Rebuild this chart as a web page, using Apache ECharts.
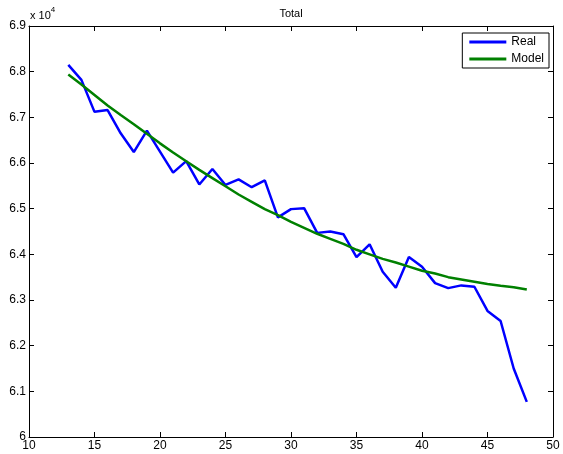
<!DOCTYPE html>
<html>
<head>
<meta charset="utf-8">
<script src="https://cdn.jsdelivr.net/npm/echarts@6/dist/echarts.min.js"></script>
<style>html,body{margin:0;padding:0;background:#fff}#c{width:563px;height:454px}</style>
</head>
<body>
<div id="c"></div>
<script>
const xValues = [13,14,15,16,17,18,19,20,21,22,23,24,25,26,27,28,29,30,31,32,33,34,35,36,37,38,39,40,41,42,43,44,45,46,47,48];
const realValues = [68150,67820,67120,67160,66650,66240,66710,66250,65790,66040,65530,65870,65520,65640,65470,65620,64810,64990,65010,64470,64500,64440,63940,64220,63620,63270,63940,63730,63370,63260,63320,63290,62760,62540,61500,60770];
const modelValues = [67940,67720,67490,67260,67050,66850,66640,66430,66230,66040,65850,65670,65490,65310,65150,64990,64860,64710,64580,64450,64340,64230,64100,64000,63900,63820,63730,63640,63580,63500,63450,63400,63350,63310,63280,63230];
const xTicks = [10,15,20,25,30,35,40,45,50];
const yTicks = [60000,61000,62000,63000,64000,65000,66000,67000,68000,69000];
const seriesNames = ['Real','Model'];
const titleText = 'Total';

const font = 'Liberation Sans, Arial, Helvetica, sans-serif';
const chart = echarts.init(document.getElementById('c'));
const pair = (arr) => xValues.map((x,i)=>[x, arr[i]]);
const fmtY = v => { const s = (v/10000).toFixed(1); return s.endsWith('.0') ? s.slice(0,-2) : s; };

chart.setOption({
  animation: false,
  backgroundColor: '#fff',
  grid: { left: 29, right: 10, top: 26, bottom: 17, containLabel: false },
  legend: {
    data: seriesNames, orient: 'vertical', right: 14, top: 33,
    icon: 'rect', itemWidth: 37, itemHeight: 3, itemGap: 5,
    borderColor: '#000', borderWidth: 1, backgroundColor: '#fff',
    padding: [3, 5, 3, 7],
    textStyle: { fontFamily: font, fontSize: 12, color: '#000', padding: [0,0,0,0] }
  },
  xAxis: [
    { type: 'value', min: 10, max: 50, interval: 5, position: 'bottom',
      axisLine: { lineStyle: { color: '#000', width: 1 } },
      axisTick: { inside: true, length: 5, lineStyle: { color: '#000' } },
      axisLabel: { color: '#000', fontFamily: font, fontSize: 12, margin: 3 },
      splitLine: { show: false } },
    { type: 'value', min: 10, max: 50, interval: 5, position: 'top',
      axisLine: { show: true, lineStyle: { color: '#000', width: 1 } },
      axisTick: { inside: true, length: 5, lineStyle: { color: '#000' } },
      axisLabel: { show: false }, splitLine: { show: false } }
  ],
  yAxis: [
    { type: 'value', min: 60000, max: 69000, interval: 1000, position: 'left',
      axisLine: { show: true, lineStyle: { color: '#000', width: 1 } },
      axisTick: { show: true, inside: true, length: 5, lineStyle: { color: '#000' } },
      axisLabel: { color: '#000', fontFamily: font, fontSize: 12, margin: 3, formatter: fmtY },
      splitLine: { show: false } },
    { type: 'value', min: 60000, max: 69000, interval: 1000, position: 'right',
      axisLine: { show: true, lineStyle: { color: '#000', width: 1 } },
      axisTick: { show: true, inside: true, length: 5, lineStyle: { color: '#000' } },
      axisLabel: { show: false }, splitLine: { show: false } }
  ],
  graphic: [{
    type: 'text', left: 30, top: 6,
    style: { text: '{a|x 10}{b|4}', rich: {
      a: { fontFamily: font, fontSize: 11, fill: '#000', padding: [4,0,0,0] },
      b: { fontFamily: font, fontSize: 8, fill: '#000', verticalAlign: 'top', padding: [0,0,6,0] } } }
  }, {
    type: 'text', x: 291, y: 14,
    style: { text: titleText, fontFamily: font, fontSize: 11, fill: '#000', align: 'center', verticalAlign: 'middle' }
  }],
  series: [
    { name: seriesNames[0], type: 'line', data: pair(realValues), showSymbol: false, symbol: 'none',
      lineStyle: { color: '#0000ff', width: 2.5 }, itemStyle: { color: '#0000ff' } },
    { name: seriesNames[1], type: 'line', data: pair(modelValues), showSymbol: false, symbol: 'none',
      lineStyle: { color: '#008000', width: 2.5 }, itemStyle: { color: '#008000' } }
  ]
});
</script>
</body>
</html>
